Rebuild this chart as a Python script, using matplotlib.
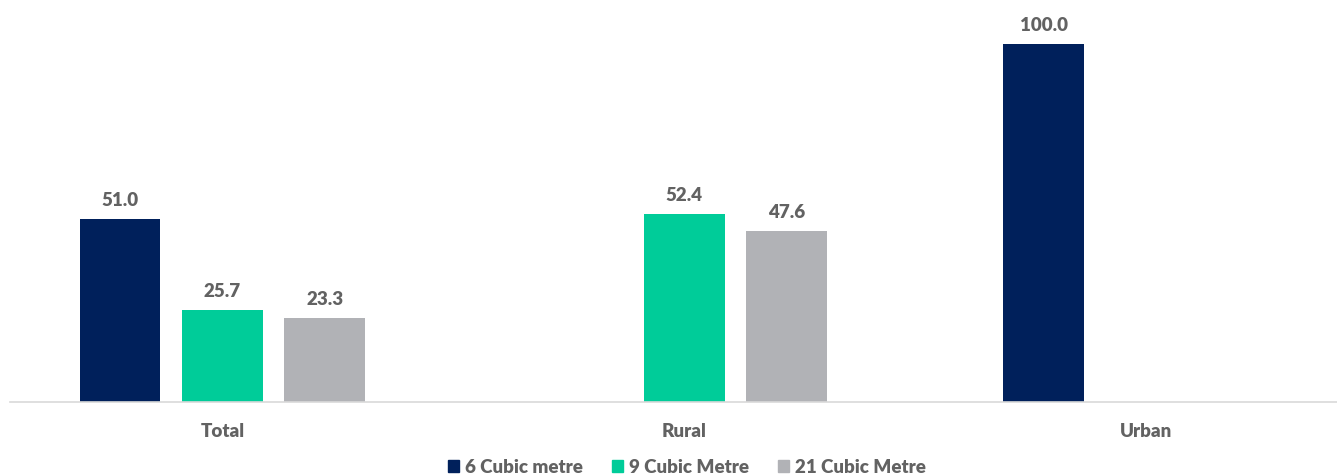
import numpy as np
import matplotlib.pyplot as plt
from matplotlib.patches import Patch

categories = ["Total", "Rural", "Urban"]
series_names = ["6 Cubic metre", "9 Cubic Metre", "21 Cubic Metre"]
cubic6 = [51.0, None, 100.0]
cubic9 = [25.7, 52.4, None]
cubic21 = [23.3, 47.6, None]
colors = ["#00205B", "#00CC99", "#B1B2B6"]

TEXT = "#626262"
plt.rcParams["font.family"] = ["Lato", "DejaVu Sans"]

fig = plt.figure(figsize=(13.37, 4.77), dpi=100)
ax = fig.add_axes([10 / 1337, 1 - 402.5 / 477, 1 - 10 / 1337, 402.5 / 477])

x = np.arange(len(categories))
width = 0.175
step = 0.2216

for i, (vals, color) in enumerate(zip([cubic6, cubic9, cubic21], colors)):
    offs = (i - 1) * step
    for xi, v in zip(x, vals):
        if v is None:
            continue
        ax.bar(xi + offs, v, width=width, color=color)
        ax.annotate(f"{v:.1f}", (xi + offs, v), xytext=(0, 8), textcoords="offset points",
                    ha="center", va="bottom", fontsize=13.5, fontweight="heavy", color=TEXT)

ax.set_xlim(-0.460, 2.414)
ax.set_ylim(0, 112.6)
ax.set_xticks(x)
ax.set_xticklabels(categories, fontsize=13.5, fontweight="heavy", color=TEXT)
ax.tick_params(axis="x", length=0, pad=15)
ax.set_yticks([])
for s in ["top", "right", "left"]:
    ax.spines[s].set_visible(False)
ax.spines["bottom"].set_color("#D9D9D9")
ax.spines["bottom"].set_linewidth(1.2)

handles = [Patch(color=c, label=n) for c, n in zip(colors, series_names)]
fig.legend(handles=handles, loc="center", bbox_to_anchor=(687 / 1337, 1 - 468 / 477),
           ncol=3, frameon=False, handlelength=0.6, handleheight=0.6, handletextpad=0.32,
           columnspacing=1.55, prop={"size": 13.5, "weight": "heavy"}, labelcolor=TEXT)

fig.savefig("out.png", dpi=100)
